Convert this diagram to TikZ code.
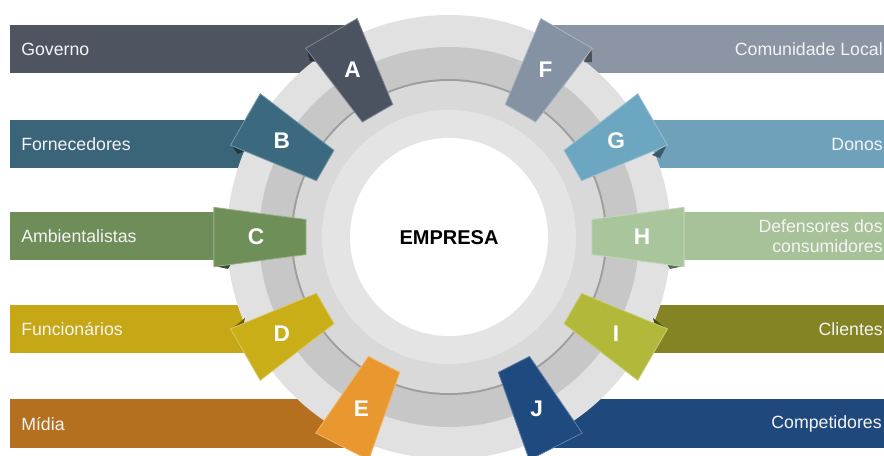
\documentclass[tikz,border=0pt]{standalone}
\usepackage{fontspec}
\setmainfont{Liberation Sans}
\begin{document}
\begin{tikzpicture}[x=0.75pt,y=0.75pt]
% stakeholder colours: bar / tab
\definecolor{barA}{HTML}{4E5561}\definecolor{tabA}{HTML}{4B5260}
\definecolor{barB}{HTML}{3A6478}\definecolor{tabB}{HTML}{3B6A80}
\definecolor{barC}{HTML}{6F8D58}\definecolor{tabC}{HTML}{6E8F57}
\definecolor{barD}{HTML}{C6A716}\definecolor{tabD}{HTML}{C9AE17}
\definecolor{barE}{HTML}{B4701F}\definecolor{tabE}{HTML}{E9972F}
\definecolor{barF}{HTML}{8B95A3}\definecolor{tabF}{HTML}{8592A3}
\definecolor{barG}{HTML}{6FA2BA}\definecolor{tabG}{HTML}{6CA6C0}
\definecolor{barH}{HTML}{A7C199}\definecolor{tabH}{HTML}{A9C59C}
\definecolor{barI}{HTML}{858425}\definecolor{tabI}{HTML}{B2B83A}
\definecolor{barJ}{HTML}{1F497D}\definecolor{tabJ}{HTML}{1F4A80}
% ring greys
\definecolor{ringouter}{HTML}{E1E1E1}
\definecolor{ringmid}{HTML}{C7C7C7}
\definecolor{ringline}{HTML}{9E9E9E}
\definecolor{ringinner}{HTML}{D9D9D9}
\definecolor{ringcore}{HTML}{E4E4E4}
\definecolor{labelfg}{HTML}{F4F4F4}
\tikzset{
  bartext/.style={text=labelfg, font=\fontsize{13.3}{15}\selectfont, inner sep=0pt},
  tabletter/.style={text=white, font=\fontsize{17}{20}\selectfont\bfseries, inner sep=0pt},
  centertext/.style={text=black, font=\fontsize{15}{18}\selectfont\bfseries, inner sep=0pt},
}
\useasboundingbox (-449,-218) rectangle (435,237);
\fill[white] (-449,-218) rectangle (435,237);

% horizontal bars (their inner ends hide under the ring and the tabs)
\fill[barA] (-439,164) rectangle (-94,212);
\fill[barB] (-439,69) rectangle (-169,117);
\fill[barC] (-439,-23) rectangle (-189,25);
\fill[barD] (-439,-116) rectangle (-179,-68);
\fill[barE] (-439,-211) rectangle (-95,-162);
\fill[barF] (98,164) rectangle (440,212);
\fill[barG] (181,69) rectangle (440,117);
\fill[barH] (191,-23) rectangle (440,25);
\fill[barI] (181,-116) rectangle (440,-68);
\fill[barJ] (95,-211) rectangle (440,-162);

% concentric ring
\fill[ringouter] (0,0) circle (222);
\fill[ringmid] (0,0) circle (190);
\fill[ringline] (0,0) circle (158);
\fill[ringinner] (0,0) circle (156);
\fill[ringcore] (0,0) circle (127);
\fill[white] (0,0) circle (99);

% folded ribbon corners
\fill[barA!55!black] (-142.6,189.3) -- (-130,175) -- (-139,176) -- cycle;
\fill[barB!55!black] (-218.2,92.6) -- (-203,87) -- (-211,83) -- cycle;
\fill[barC!55!black] (-235.2,-28.9) -- (-218,-27) -- (-221,-32) -- cycle;
\fill[barD!55!black] (-218.2,-92.6) -- (-204,-81) -- (-206,-89) -- cycle;
\fill[barE!55!black] (-132.5,-196.5) -- (-117,-184) -- (-118,-194) -- cycle;
\fill[barF!55!black] (142.6,189.3) -- (135,175) -- (143,175) -- cycle;
\fill[barG!55!black] (218.2,92.6) -- (203,82) -- (211,79) -- cycle;
\fill[barH!55!black] (235.2,-28.9) -- (218,-27) -- (221,-32) -- cycle;
\fill[barI!55!black] (218.2,-92.6) -- (204,-81) -- (206,-89) -- cycle;
\fill[barJ!55!black] (132.5,-196.5) -- (117,-184) -- (118,-194) -- cycle;

% lettered tabs around the ring
\foreach \a/\c/\l in {120/tabA/A,150/tabB/B,180/tabC/C,210/tabD/D,243/tabE/E,
                      60/tabF/F,30/tabG/G,0/tabH/H,-30/tabI/I,-63/tabJ/J}{
  \filldraw[fill=\c, draw=\c!70!white, line width=0.6]
    (\a-7:144) -- (\a+7:144) -- (\a+7.2:237) -- (\a-7.2:237) -- cycle;
  \node[tabletter] (tab\l) at (\a:193) {\l};
}

% centre label
\node[centertext] (empresa) at (0,-1) {EMPRESA};

% bar labels
\node[bartext, anchor=west] (governo) at (-428,188) {Governo};
\node[bartext, anchor=west] (fornecedores) at (-428,93) {Fornecedores};
\node[bartext, anchor=west] (ambientalistas) at (-428,1) {Ambientalistas};
\node[bartext, anchor=west] (funcionarios) at (-428,-92) {Funcionários};
\node[bartext, anchor=west] (midia) at (-428,-187) {Mídia};
\node[bartext, anchor=east] (comunidade) at (434,188) {Comunidade Local};
\node[bartext, anchor=east] (donos) at (434,93) {Donos};
\node[bartext, anchor=east, align=right, font=\fontsize{13.3}{15}\selectfont] (defensores) at (434,1) {Defensores dos\\consumidores};
\node[bartext, anchor=east] (clientes) at (434,-92) {Clientes};
\node[bartext, anchor=east] (competidores) at (433,-187) {Competidores};
\end{tikzpicture}
\end{document}
